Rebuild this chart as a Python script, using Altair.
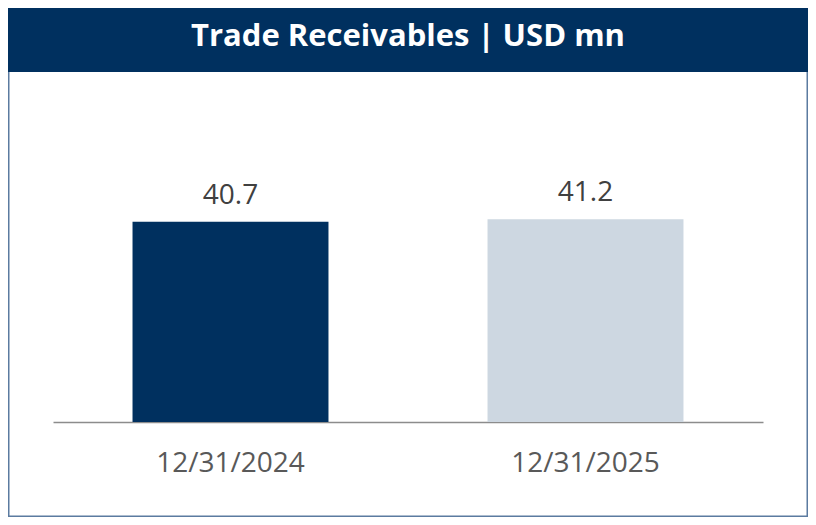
import altair as alt
import pandas as pd

dates = ["12/31/2024", "12/31/2025"]
values = [40.7, 41.2]
colors = ["#00305F", "#CDD7E1"]
title_text = "Trade Receivables | USD mn"

df = pd.DataFrame({"date": dates, "value": values, "color": colors})

FONT = "Open Sans"
W, H = 710, 246
PT = 168

xenc = alt.X("date:N", sort=dates,
             scale=alt.Scale(paddingInner=0.448, paddingOuter=0.224),
             axis=alt.Axis(title=None, labelAngle=0, ticks=False, labelFontSize=28,
                           labelFont=FONT, labelColor="#595959", labelPadding=27,
                           domainColor="#8C8C8C", domainWidth=1.5, grid=False))
yenc = alt.Y("value:Q", scale=alt.Scale(domain=[0, 50], nice=False), axis=None)

bars = alt.Chart(df).mark_bar().encode(
    x=xenc, y=yenc, color=alt.Color("color:N", scale=None)
)
labels = alt.Chart(df).mark_text(
    baseline="bottom", dy=-12, fontSize=28, font=FONT, color="#404040"
).encode(x=alt.X("date:N", sort=dates), y="value:Q", text=alt.Text("value:Q", format=".1f"))

header = alt.Chart(pd.DataFrame({"t": [title_text]})).mark_rect(color="#00305F").encode(
    x=alt.value(-45), x2=alt.value(755), y=alt.value(-PT), y2=alt.value(-PT + 64)
)
title = alt.Chart(pd.DataFrame({"t": [title_text]})).mark_text(
    fontSize=31, fontWeight="bold", font=FONT, color="white", align="center", baseline="middle"
).encode(x=alt.value(355), y=alt.value(-PT + 29), text="t:N")
border = alt.Chart(pd.DataFrame({"t": [title_text]})).mark_rect(
    fill=None, stroke="#5B7BA0", strokeWidth=1.5
).encode(x=alt.value(-44.25), x2=alt.value(754.25), y=alt.value(-PT + 0.75), y2=alt.value(509 - PT - 0.75))

chart = alt.layer(border, header, title, bars, labels).properties(
    width=W, height=H,
    padding={"left": 45, "top": PT, "right": 45, "bottom": 509 - PT - H},
    autosize="none",
).configure_view(stroke=None)

chart.save("out.html", embed_options={"renderer": "svg", "actions": False})
